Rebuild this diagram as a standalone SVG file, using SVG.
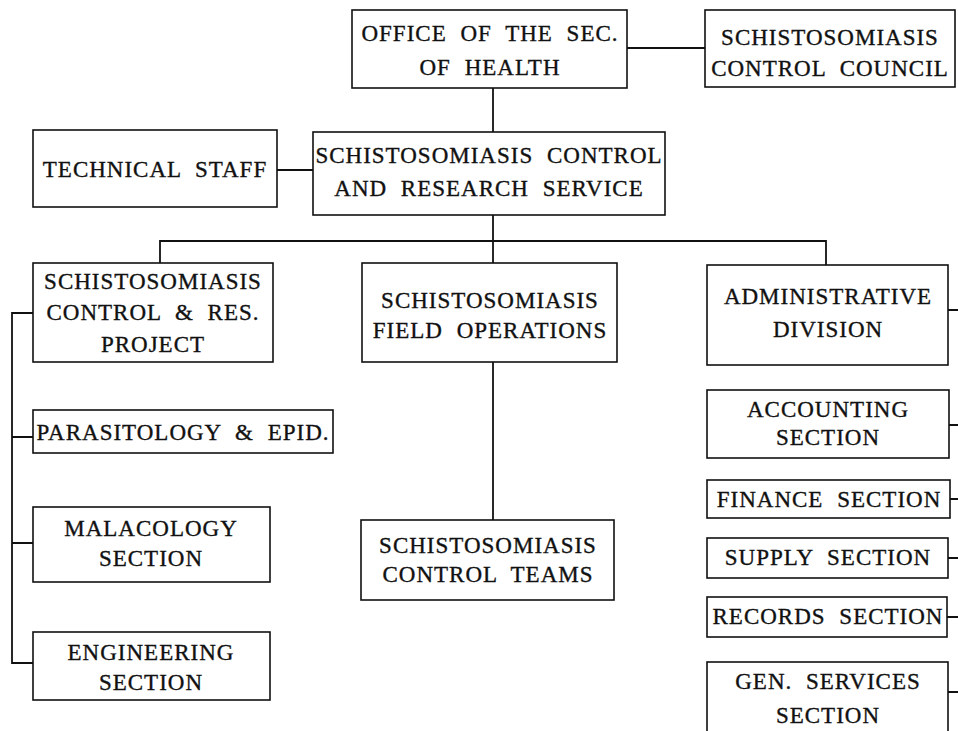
<svg xmlns="http://www.w3.org/2000/svg" width="958" height="731" viewBox="0 0 958 731">
<style>
.box{fill:#fff;stroke:#111;stroke-width:1.6}
.t{font-family:"Liberation Serif","Times New Roman",serif;font-size:23px;fill:#111;stroke:#111;stroke-width:0.35;text-anchor:middle;letter-spacing:1px;word-spacing:7px}
.c{fill:none;stroke:#111;stroke-width:1.8}
</style>
<rect width="958" height="731" fill="#fff"/>
<g id="connectors">
<path class="c" d="M627 48H705"/>
<path class="c" d="M493 88V132"/>
<path class="c" d="M277 170H313"/>
<path class="c" d="M493 215V263"/>
<path class="c" d="M160 263V241H826V265"/>
<path class="c" d="M33 313H12V663H33M12 437H33M12 543H33"/>
<path class="c" d="M493 362V520"/>
<path class="c" d="M948 310H958M949 425H958M950 499H958M948 558H958M947 617H958M948 692H958"/>
</g>
<g id="office"><rect class="box" x="352" y="10" width="275" height="78"/><text class="t" x="490" y="41">OFFICE OF THE SEC.</text><text class="t" x="490" y="75">OF HEALTH</text></g>
<g id="council"><rect class="box" x="705" y="10" width="250" height="77"/><text class="t" x="830" y="45">SCHISTOSOMIASIS</text><text class="t" x="830" y="76">CONTROL COUNCIL</text></g>
<g id="technical"><rect class="box" x="33" y="130" width="244" height="77"/><text class="t" x="155" y="177">TECHNICAL STAFF</text></g>
<g id="scrs"><rect class="box" x="313" y="132" width="352" height="83"/><text class="t" x="489" y="163">SCHISTOSOMIASIS CONTROL</text><text class="t" x="489" y="196">AND RESEARCH SERVICE</text></g>
<g id="scrp"><rect class="box" x="33" y="263" width="240" height="99"/><text class="t" x="153" y="289">SCHISTOSOMIASIS</text><text class="t" x="153" y="320">CONTROL &amp; RES.</text><text class="t" x="153" y="352">PROJECT</text></g>
<g id="parasitology"><rect class="box" x="33" y="410" width="300" height="43"/><text class="t" x="183" y="440">PARASITOLOGY &amp; EPID.</text></g>
<g id="malacology"><rect class="box" x="33" y="507" width="237" height="75"/><text class="t" x="151" y="536">MALACOLOGY</text><text class="t" x="151" y="566">SECTION</text></g>
<g id="engineering"><rect class="box" x="33" y="632" width="237" height="68"/><text class="t" x="151" y="660">ENGINEERING</text><text class="t" x="151" y="690">SECTION</text></g>
<g id="field"><rect class="box" x="362" y="263" width="255" height="99"/><text class="t" x="490" y="308">SCHISTOSOMIASIS</text><text class="t" x="490" y="338">FIELD OPERATIONS</text></g>
<g id="teams"><rect class="box" x="361" y="520" width="253" height="80"/><text class="t" x="488" y="553">SCHISTOSOMIASIS</text><text class="t" x="488" y="582">CONTROL TEAMS</text></g>
<g id="admin"><rect class="box" x="707" y="265" width="241" height="100"/><text class="t" x="828" y="304">ADMINISTRATIVE</text><text class="t" x="828" y="337">DIVISION</text></g>
<g id="accounting"><rect class="box" x="707" y="390" width="242" height="68"/><text class="t" x="828" y="417">ACCOUNTING</text><text class="t" x="828" y="445">SECTION</text></g>
<g id="finance"><rect class="box" x="707" y="480" width="243" height="38"/><text class="t" x="829" y="507">FINANCE SECTION</text></g>
<g id="supply"><rect class="box" x="707" y="538" width="241" height="40"/><text class="t" x="828" y="565">SUPPLY SECTION</text></g>
<g id="records"><rect class="box" x="707" y="597" width="240" height="40"/><text class="t" x="828" y="624">RECORDS SECTION</text></g>
<g id="genservices"><rect class="box" x="707" y="662" width="241" height="90"/><text class="t" x="828" y="689">GEN. SERVICES</text><text class="t" x="828" y="723">SECTION</text></g>
</svg>
